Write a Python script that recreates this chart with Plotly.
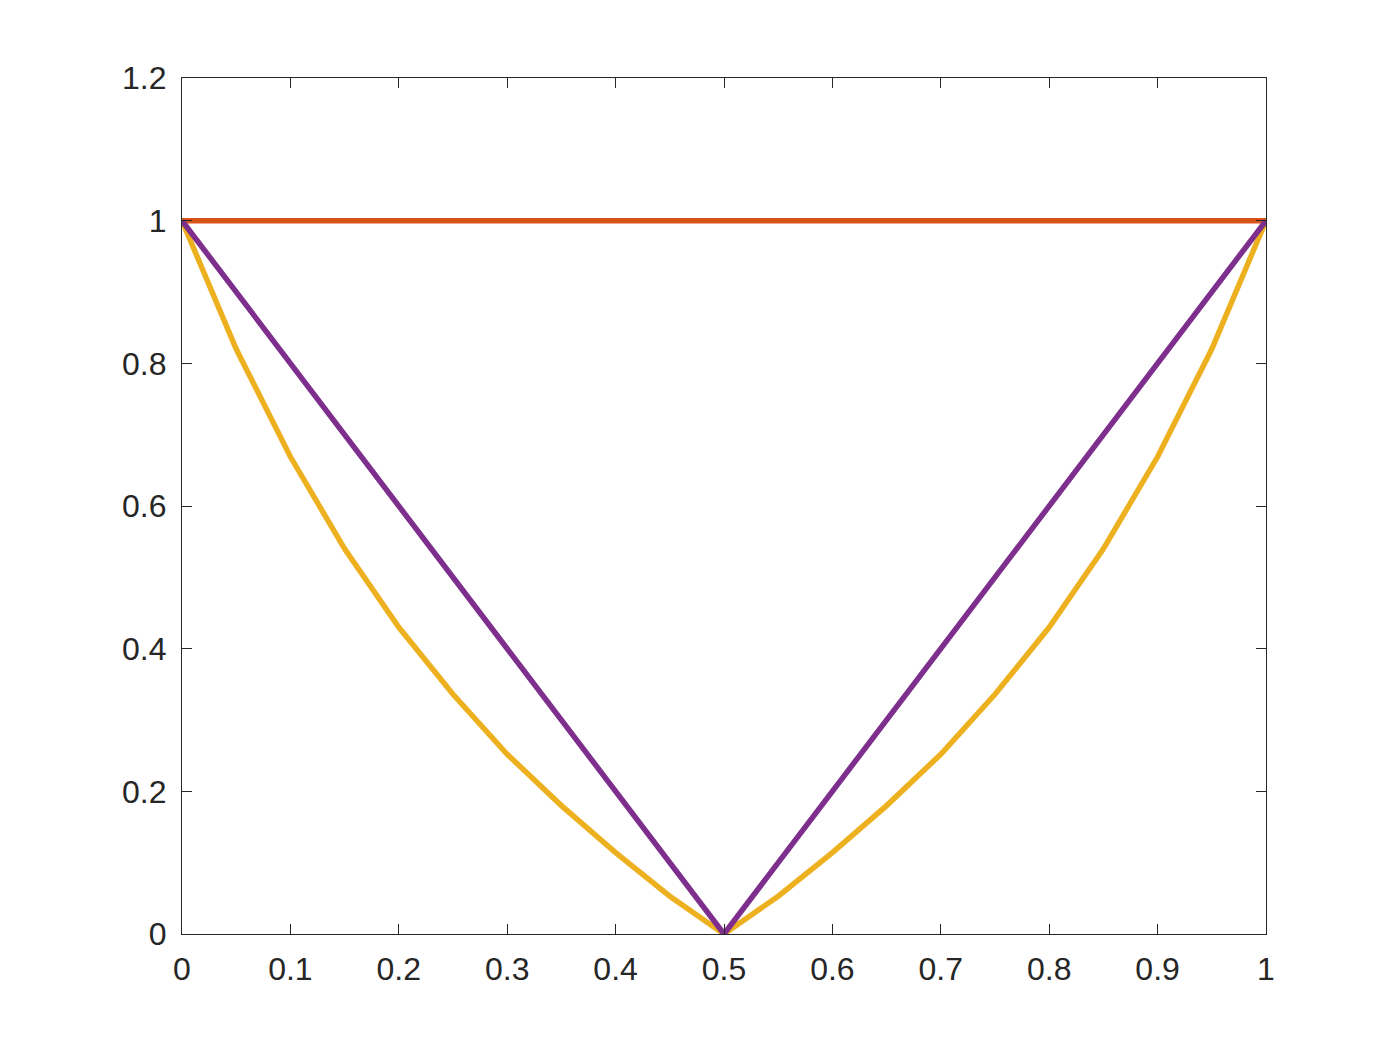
import plotly.graph_objects as go

x = [0, 0.05, 0.1, 0.15, 0.2, 0.25, 0.3, 0.35, 0.4, 0.45, 0.5,
     0.55, 0.6, 0.65, 0.7, 0.75, 0.8, 0.85, 0.9, 0.95, 1]

flat = [1] * len(x)
curve = [1, 0.82, 0.669, 0.54, 0.43, 0.336, 0.252, 0.18, 0.114, 0.053, 0,
         0.053, 0.114, 0.18, 0.252, 0.336, 0.43, 0.54, 0.669, 0.82, 1]
vee = [1, 0.9, 0.8, 0.7, 0.6, 0.5, 0.4, 0.3, 0.2, 0.1, 0,
       0.1, 0.2, 0.3, 0.4, 0.5, 0.6, 0.7, 0.8, 0.9, 1]

xticks = [0, 0.1, 0.2, 0.3, 0.4, 0.5, 0.6, 0.7, 0.8, 0.9, 1]
yticks = [0, 0.2, 0.4, 0.6, 0.8, 1, 1.2]

fig = go.Figure()
fig.add_trace(go.Scatter(x=x, y=flat, mode="lines", line=dict(color="#D95319", width=5.5)))
fig.add_trace(go.Scatter(x=x, y=curve, mode="lines", line=dict(color="#EDB120", width=5.5)))
fig.add_trace(go.Scatter(x=x, y=vee, mode="lines", line=dict(color="#7E2F8E", width=5.5)))

axis = dict(showgrid=False, zeroline=False, showline=True, linecolor="#262626",
            linewidth=1.3, mirror="ticks", ticks="inside", ticklen=10,
            tickcolor="#262626", tickwidth=1.3,
            tickfont=dict(family="Liberation Sans, Arial", size=32, color="#262626"))

fig.update_layout(
    width=1400, height=1050, showlegend=False,
    plot_bgcolor="white", paper_bgcolor="white",
    margin=dict(l=174, r=142, t=70, b=124),
    xaxis=dict(axis, range=[0, 1], tickvals=xticks, ticklabelstandoff=6,
               ticktext=[f"{v:g}" for v in xticks]),
    yaxis=dict(axis, range=[0, 1.2], tickvals=yticks, ticklabelstandoff=8,
               ticktext=[f"{v:g}" for v in yticks]),
)

fig.write_html("out.html")
